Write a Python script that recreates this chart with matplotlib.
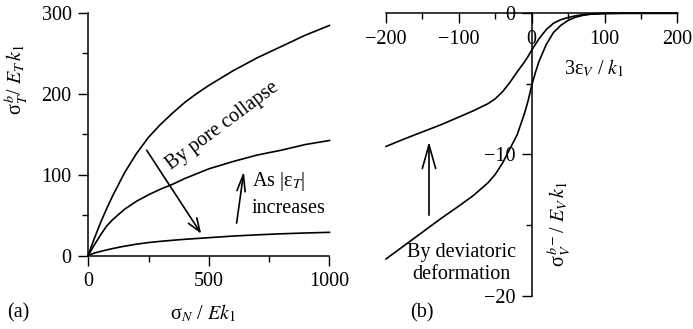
import matplotlib
matplotlib.use('Agg')
from matplotlib import pyplot as plt, ticker

# (a) bond stress vs normal stress, three curves
sigma_n = [0, 10, 25, 50, 75, 100, 150, 200, 250, 300, 350, 400, 450, 500, 600, 700, 800, 900, 1000]
tau_high = [0, 9, 21, 40, 57, 73, 102, 126, 146, 162, 176, 189, 200, 210, 228, 244, 258, 272, 284]
tau_mid = [0, 5.5, 13, 25, 36, 44, 57, 67, 75, 82, 88, 95, 101, 107, 116, 124, 130, 137, 142]
tau_low = [0, 1.3, 3, 5, 6.8, 8.5, 11.5, 14, 16, 17.5, 18.8, 20, 21, 22, 24, 25.5, 26.8, 27.8, 28.6]

# (b) volumetric bond stress vs volumetric strain
eps_v = [-200, -175, -150, -125, -100, -80, -60, -50, -40, -30, -20, -10, -5, 0,
         5, 10, 20, 30, 40, 50, 60, 70, 80, 100, 125, 150, 200]
sv_upper = [-9.43, -8.9, -8.4, -7.9, -7.35, -6.9, -6.4, -6.05, -5.55, -4.9, -4.15, -3.45, -3.05, -2.6,
            -2.2, -1.8, -1.15, -0.7, -0.45, -0.3, -0.18, -0.1, -0.05, -0.01, 0, 0, 0]
sv_lower = [-17.4, -16.45, -15.5, -14.55, -13.65, -12.9, -12.0, -11.4, -10.6, -9.6, -8.6, -7.1, -6.2, -5.1,
            -4.2, -3.4, -2.2, -1.35, -0.85, -0.5, -0.28, -0.15, -0.07, -0.02, 0, 0, 0]

FS = 14.5


def style_ticks(ax):
    ax.tick_params(which='major', direction='out', length=7, width=1.0, pad=5, labelsize=FS)
    ax.tick_params(which='minor', direction='out', length=4.3, width=1.0)


def main():
    plt.rcParams['font.family'] = ['Liberation Serif', 'DejaVu Serif']
    plt.rcParams['mathtext.fontset'] = 'stix'
    plt.rcParams['axes.linewidth'] = 1.1

    fig = plt.figure(figsize=(6.93, 3.29), dpi=100)

    # ---- panel (a)
    ax1 = fig.add_axes([0.1274, 0.2234, 0.348, 0.7386])
    for ys in (tau_high, tau_mid, tau_low):
        ax1.plot(sigma_n, ys, color='black', lw=1.2, clip_on=False)
    ax1.set_xlim(0, 1000)
    ax1.set_ylim(0, 300)
    ax1.spines['top'].set_visible(False)
    ax1.spines['right'].set_visible(False)
    ax1.xaxis.set_major_locator(ticker.MultipleLocator(500))
    ax1.xaxis.set_minor_locator(ticker.MultipleLocator(250))
    ax1.yaxis.set_major_locator(ticker.MultipleLocator(100))
    ax1.yaxis.set_minor_locator(ticker.MultipleLocator(50))
    style_ticks(ax1)

    ax1.annotate('', xy=(468, 27), xytext=(242, 130),
                 arrowprops=dict(arrowstyle='->,head_length=9.5,head_width=3.6',
                                 mutation_scale=1, lw=1.2, color='black',
                                 shrinkA=0, shrinkB=0))
    ax1.annotate('', xy=(645, 104), xytext=(615, 40),
                 arrowprops=dict(arrowstyle='->,head_length=12,head_width=3',
                                 mutation_scale=1, lw=1.2, color='black',
                                 shrinkA=0, shrinkB=0))
    ax1.text(556, 160, 'By pore collapse', rotation=36.7, rotation_mode='anchor',
             ha='center', va='center', fontsize=FS)
    ax1.text(680, 91, 'As |ε$_T$|', ha='left', va='center', fontsize=FS)
    ax1.text(676, 58.5, 'increases', ha='left', va='center', fontsize=FS)

    fig.text(0.2929, 0.0486, 'σ$_N$ / $Ek_\\mathit{1}$', ha='center', va='center', fontsize=FS)
    fig.text(0.024, 0.76, 'σ$_T^{\\,b}$/ $E_T\\,k_\\mathit{1}$', rotation=90,
             ha='center', va='center', fontsize=FS)
    fig.text(0.01, 0.0486, '(a)', ha='left', va='center', fontsize=FS)

    # ---- panel (b)
    ax2 = fig.add_axes([0.557, 0.1012, 0.4206, 0.8584])
    for ys in (sv_upper, sv_lower):
        ax2.plot(eps_v, ys, color='black', lw=1.2, clip_on=False)
    ax2.set_xlim(-200, 200)
    ax2.set_ylim(-20, 0)
    ax2.spines['top'].set_visible(False)
    ax2.spines['right'].set_visible(False)
    ax2.spines['bottom'].set_position(('data', 0))
    ax2.spines['left'].set_position(('data', 0))
    ax2.xaxis.set_major_locator(ticker.MultipleLocator(100))
    ax2.xaxis.set_minor_locator(ticker.MultipleLocator(50))
    ax2.yaxis.set_major_locator(ticker.MultipleLocator(10))
    ax2.yaxis.set_minor_locator(ticker.MultipleLocator(5))
    style_ticks(ax2)

    ax2.annotate('', xy=(-141, -9.1), xytext=(-141, -14.3),
                 arrowprops=dict(arrowstyle='->,head_length=17,head_width=4.8',
                                 mutation_scale=1, lw=1.2, color='black',
                                 shrinkA=0, shrinkB=0))
    ax2.text(-97, -16.95, 'By deviatoric', ha='center', va='center', fontsize=FS)
    ax2.text(-97, -18.5, 'deformation', ha='center', va='center', fontsize=FS)
    ax2.text(86, -3.9, '3ε$_V$ / $k_\\mathit{1}$', ha='center', va='center', fontsize=FS)
    ax2.text(38, -14.9, 'σ$_V^{\\,b-}$/ $E_V\\,k_\\mathit{1}$', rotation=90,
             ha='center', va='center', fontsize=FS)
    fig.text(0.5916, 0.0486, '(b)', ha='left', va='center', fontsize=FS)

    fig.savefig('out.png', dpi=100)


if __name__ == '__main__':
    main()
